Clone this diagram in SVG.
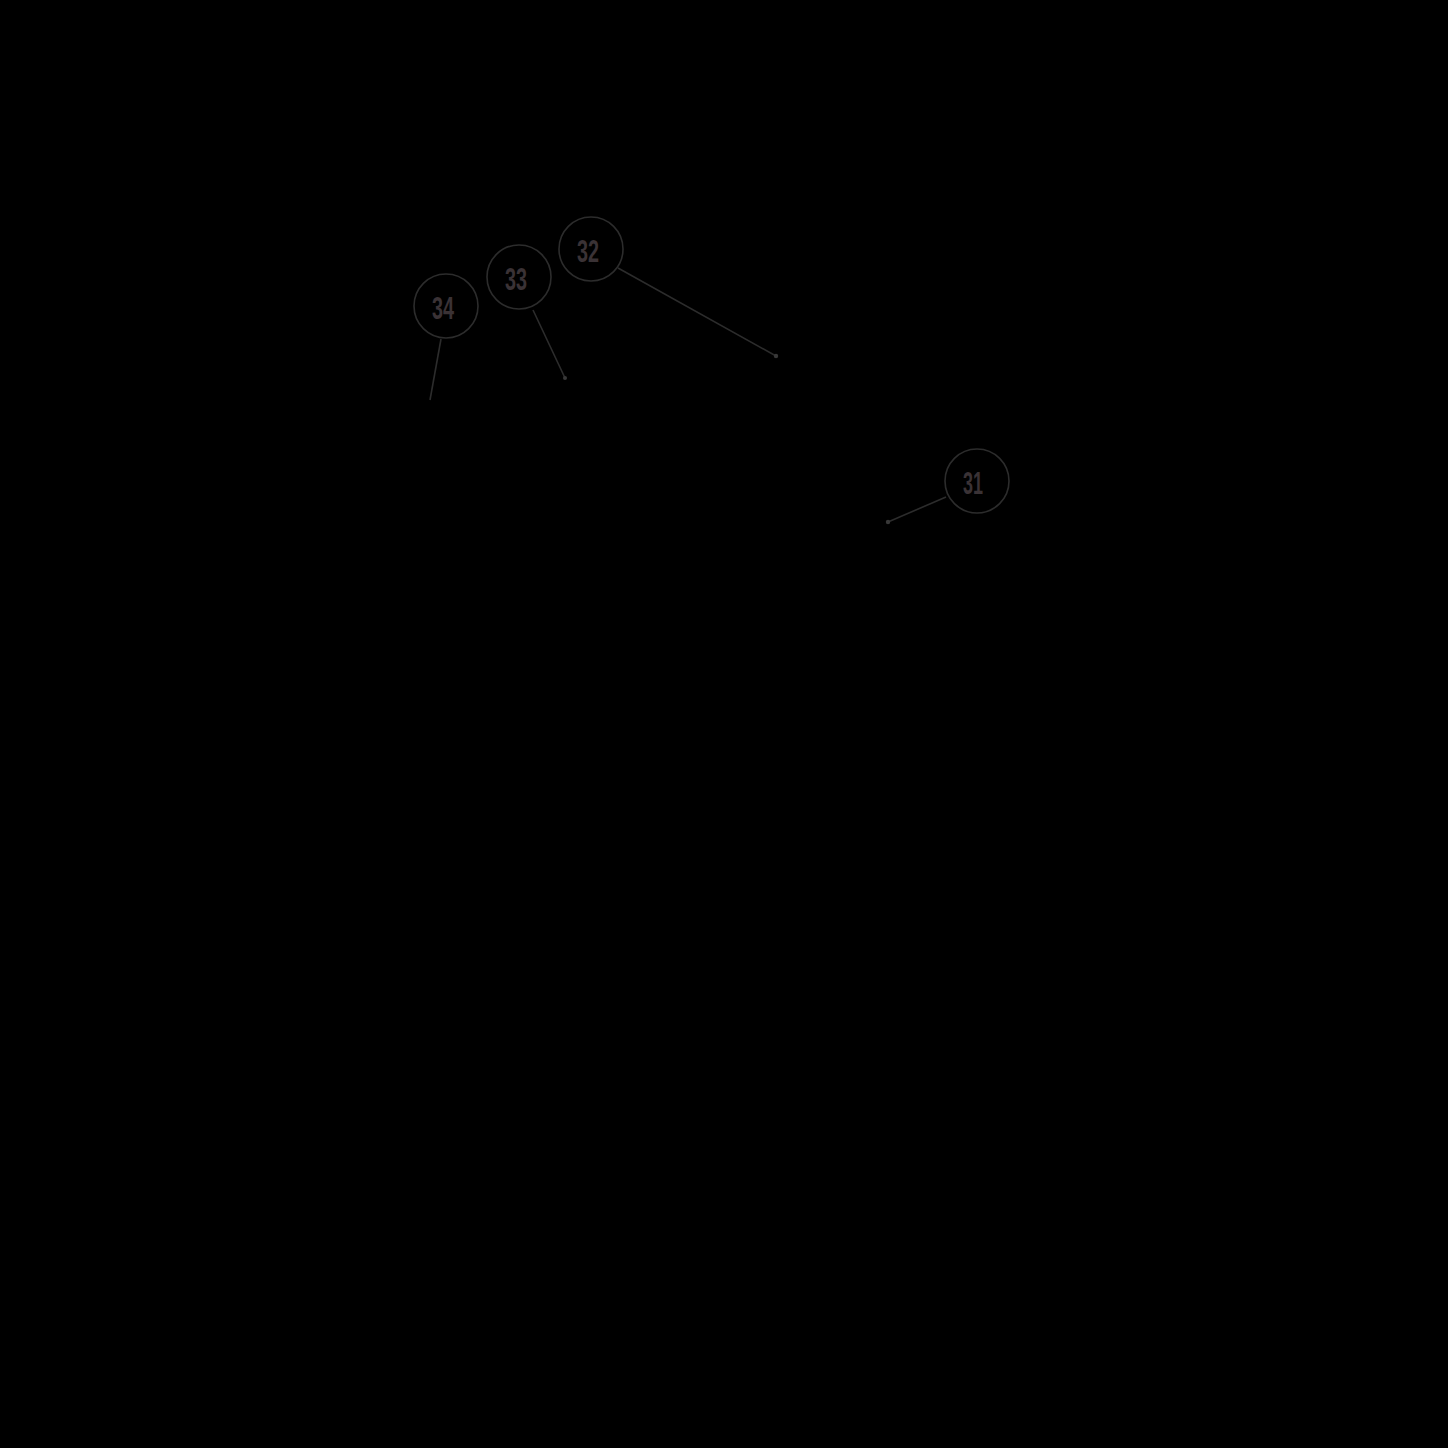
<svg xmlns="http://www.w3.org/2000/svg" width="1448" height="1448" viewBox="0 0 1448 1448">
<style>
.c{fill:none;stroke:#2c2c2c;stroke-width:1.6}
.l{stroke:#2c2c2c;stroke-width:1.6;fill:none}
.d{fill:#383838}
.t{font-family:"Liberation Sans",Arial,sans-serif;font-size:31px;font-weight:bold;fill:#3a3235;text-anchor:middle}
</style>
<rect x="0" y="0" width="1448" height="1448" fill="#000"/>
<g id="connectors">
<line class="l" x1="441" y1="339" x2="430" y2="400"/>
<line class="l" x1="533" y1="310" x2="565" y2="378"/>
<circle class="d" cx="565" cy="378" r="2"/>
<line class="l" x1="618" y1="268" x2="776" y2="356"/>
<circle class="d" cx="776" cy="356" r="2.2"/>
<line class="l" x1="946" y1="497" x2="888" y2="522"/>
<circle class="d" cx="888" cy="522" r="2.2"/>
</g>
<g id="n34"><circle class="c" cx="446" cy="306" r="32"/><text class="t" x="443" y="319" textLength="22" lengthAdjust="spacingAndGlyphs">34</text></g>
<g id="n33"><circle class="c" cx="519" cy="277" r="32"/><text class="t" x="516" y="290" textLength="22" lengthAdjust="spacingAndGlyphs">33</text></g>
<g id="n32"><circle class="c" cx="591" cy="249" r="32"/><text class="t" x="588" y="262" textLength="22" lengthAdjust="spacingAndGlyphs">32</text></g>
<g id="n31"><circle class="c" cx="977" cy="481" r="32"/><text class="t" x="973" y="494" textLength="20" lengthAdjust="spacingAndGlyphs">31</text></g>
</svg>
